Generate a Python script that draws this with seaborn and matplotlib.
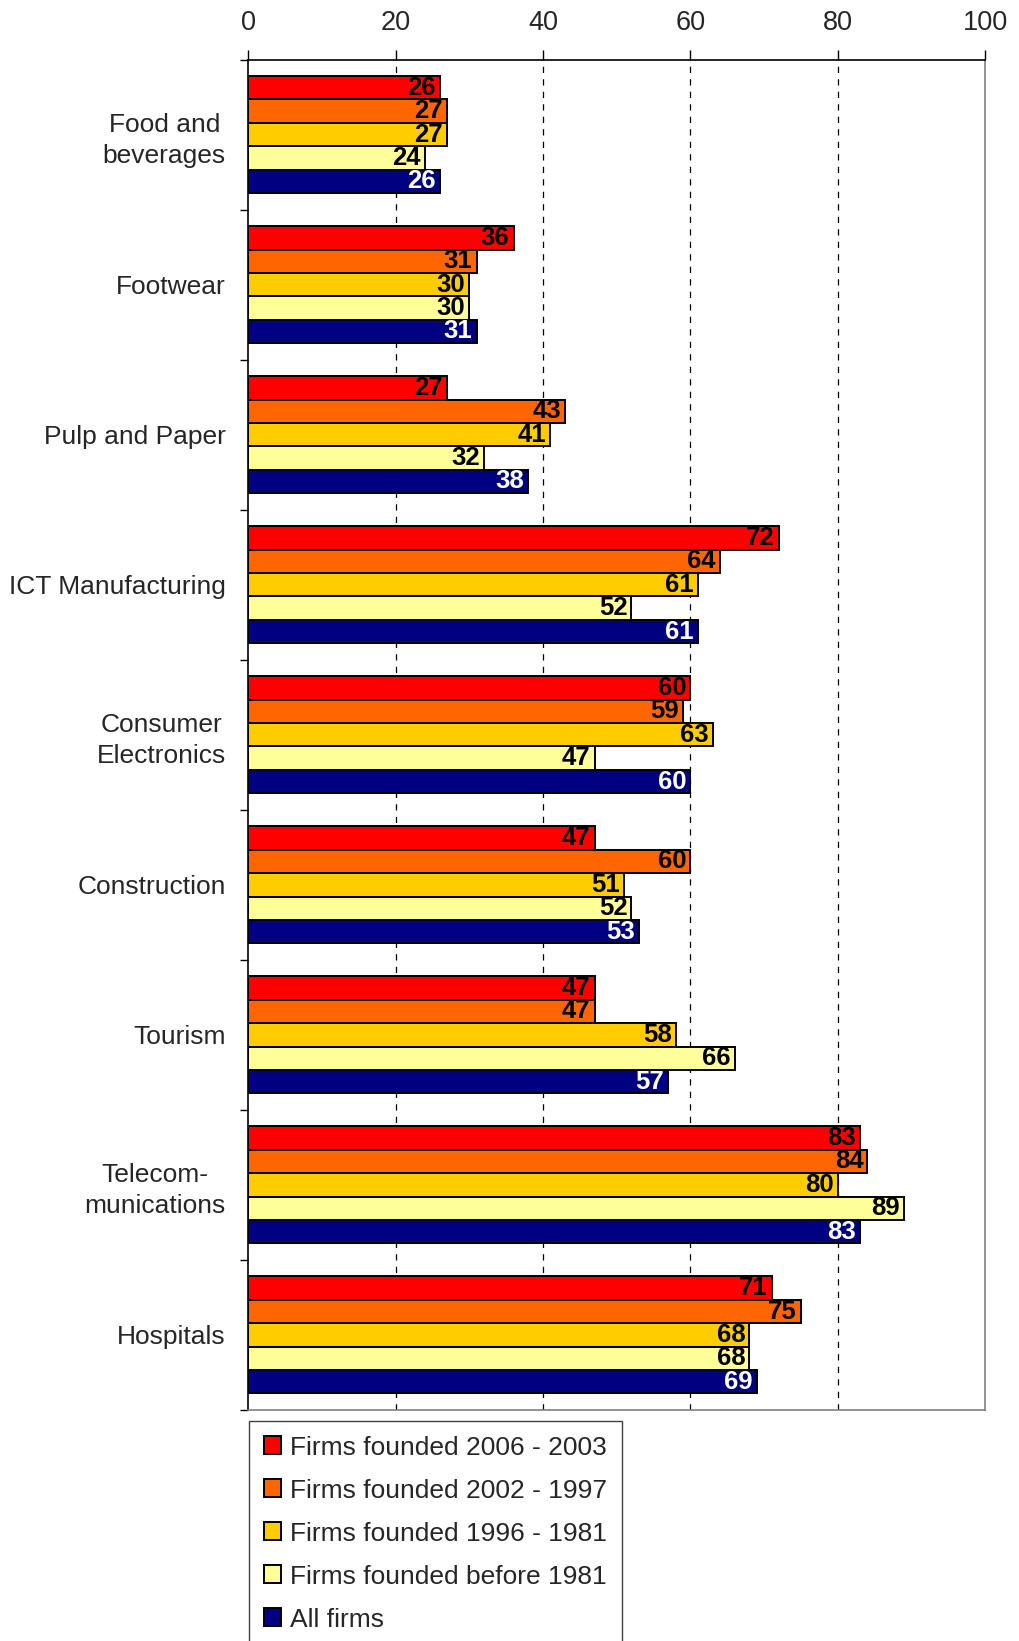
import matplotlib
matplotlib.use("Agg")
import matplotlib.pyplot as plt
import seaborn as sns
import pandas as pd
import numpy as np

# Sector names (top to bottom)
categories = [
    "Food and\nbeverages",
    "Footwear",
    "Pulp and Paper",
    "ICT Manufacturing",
    "Consumer\nElectronics",
    "Construction",
    "Tourism",
    "Telecom-\nmunications",
    "Hospitals",
]

series_names = [
    "Firms founded 2006 - 2003",
    "Firms founded 2002 - 1997",
    "Firms founded 1996 - 1981",
    "Firms founded before 1981",
    "All firms",
]

founded_2006_2003 = [26, 36, 27, 72, 60, 47, 47, 83, 71]
founded_2002_1997 = [27, 31, 43, 64, 59, 60, 47, 84, 75]
founded_1996_1981 = [27, 30, 41, 61, 63, 51, 58, 80, 68]
founded_before_1981 = [24, 30, 32, 52, 47, 52, 66, 89, 68]
all_firms = [26, 31, 38, 61, 60, 53, 57, 83, 69]

x_ticks = [0, 20, 40, 60, 80, 100]

colors = ["#FF0000", "#FF6600", "#FFCC00", "#FFFF99", "#000080"]
label_colors = ["black", "black", "black", "black", "white"]

series_values = [founded_2006_2003, founded_2002_1997, founded_1996_1981,
                 founded_before_1981, all_firms]

rows = []
for name, vals in zip(series_names, series_values):
    for cat, v in zip(categories, vals):
        rows.append({"sector": cat, "group": name, "value": v})
df = pd.DataFrame(rows)

sns.set_theme(style="white")
plt.rcParams["font.family"] = ["Liberation Sans", "DejaVu Sans"]

fig = plt.figure(figsize=(10.19, 16.41), dpi=100)
ax = fig.add_axes([0.2434, 0.1408, 0.9671 - 0.2434, 0.9637 - 0.1408])

sns.barplot(
    data=df, y="sector", x="value", hue="group",
    order=categories, hue_order=series_names,
    palette=colors, orient="h", width=0.78, dodge=True,
    edgecolor="black", linewidth=1.4, saturation=1.0,
    errorbar=None, ax=ax, zorder=3,
)

# Value labels inside bar ends
for container, lc in zip(ax.containers, label_colors):
    texts = ax.bar_label(
        container, labels=[f"{int(round(v))}" for v in container.datavalues],
        label_type="edge", padding=-3, color=lc, fontsize=18.5,
        fontweight="bold", family=["Liberation Sans Narrow", "Liberation Sans"],
        zorder=5,
    )
    for t in texts:
        t.set_horizontalalignment("right")

ax.set_xlim(0, 100)
ax.set_ylim(len(categories) - 0.5, -0.5)
ax.xaxis.tick_top()
ax.set_xticks(x_ticks)
ax.set_xticklabels([str(t) for t in x_ticks], fontsize=19.5)
ax.tick_params(axis="x", which="major", direction="out", length=7, width=1,
               color="black", pad=10, top=True, bottom=False)

# Category labels at centers, tick marks at category boundaries
ax.set_yticks(np.arange(len(categories)))
ax.set_yticklabels(categories, fontsize=19, multialignment="center",
                   linespacing=1.35)
ax.tick_params(axis="y", which="major", length=0, pad=16)
ax.set_yticks(np.arange(len(categories) + 1) - 0.5, minor=True)
ax.tick_params(axis="y", which="minor", direction="out", length=6, width=1,
               color="black", left=True)
ax.set_xlabel("")
ax.set_ylabel("")

# Dashed vertical gridlines
for xv in x_ticks[1:-1]:
    ax.axvline(xv, color="black", linestyle=(0, (5, 5)), linewidth=0.9, zorder=1)

for side in ["top", "left"]:
    ax.spines[side].set_color("black")
    ax.spines[side].set_linewidth(1.2)
for side in ["right", "bottom"]:
    ax.spines[side].set_color("#808080")
    ax.spines[side].set_linewidth(1.2)
for s in ax.spines.values():
    s.set_visible(True)

ax.get_legend().remove()
handles = [plt.Rectangle((0, 0), 1, 1, facecolor=c, edgecolor="black", linewidth=1.4)
           for c in colors]
leg = fig.legend(
    handles, series_names, loc="upper left",
    bbox_to_anchor=(249 / 1019, 1 - 1421 / 1641),
    fontsize=19, frameon=True, fancybox=False, framealpha=1,
    edgecolor="#404040", handlelength=0.65, handleheight=0.65,
    handletextpad=0.35, labelspacing=0.72, borderpad=0.55, borderaxespad=0,
)
leg.get_frame().set_linewidth(1.0)

fig.savefig("out.png", dpi=100)
